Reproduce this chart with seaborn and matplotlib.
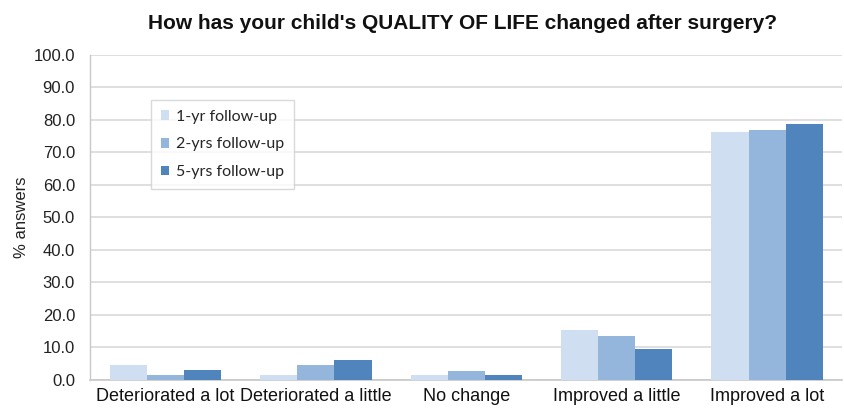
import matplotlib
matplotlib.use("Agg")
import matplotlib.pyplot as plt
import seaborn as sns
import pandas as pd

categories = ["Deteriorated a lot", "Deteriorated a little", "No change",
              "Improved a little", "Improved a lot"]
series = ["1-yr follow-up", "2-yrs follow-up", "5-yrs follow-up"]
one_year = [4.6, 1.5, 1.5, 15.4, 76.4]
two_years = [1.5, 4.6, 2.9, 13.6, 76.9]
five_years = [3.1, 6.2, 1.5, 9.6, 78.7]
yticks = [0, 10, 20, 30, 40, 50, 60, 70, 80, 90, 100]

colors = ["#cfdef0", "#95b6dc", "#4f85bc"]

df = pd.DataFrame({
    "category": categories * 3,
    "series": [series[0]] * 5 + [series[1]] * 5 + [series[2]] * 5,
    "value": one_year + two_years + five_years,
})

sns.set_style("white")
plt.rcParams["font.family"] = ["Liberation Sans", "DejaVu Sans"]

fig = plt.figure(figsize=(8.44, 4.13), dpi=100)
ax = fig.add_axes([0.107, 0.080, 0.891, 0.787])

sns.barplot(data=df, x="category", y="value", hue="series", order=categories,
            hue_order=series, palette=colors, width=0.74, saturation=1,
            edgecolor="none", linewidth=0, ax=ax, zorder=3)

ax.set_ylim(0, 100)
ax.set_yticks(yticks)
ax.set_yticklabels([f"{v:.1f}" for v in yticks], fontsize=12, color="#222222")
ax.set_xlim(-0.5, len(categories) - 0.5)
ax.tick_params(axis="x", length=0, labelsize=13, colors="#111111", pad=6)
ax.tick_params(axis="y", length=5, width=1, color="#c8c8c8", direction="out", pad=6)
ax.grid(axis="y", color="#d9d9d9", linewidth=1.2, zorder=0)
ax.set_axisbelow(True)
ax.set_xlabel("")
ax.set_ylabel("% answers", fontsize=12, color="#222222", labelpad=3)

for side in ["top", "right"]:
    ax.spines[side].set_visible(False)
ax.spines["left"].set_color("#c8c8c8")
ax.spines["bottom"].set_color("#c8c8c8")
ax.spines["left"].set_linewidth(1)
ax.spines["bottom"].set_linewidth(1.2)

fig.suptitle("How has your child's QUALITY OF LIFE changed after surgery?",
             x=0.548, y=0.965, fontsize=15, fontweight="bold", color="#111111")

leg = ax.legend(loc="upper left", bbox_to_anchor=(0.07, 0.885), frameon=True,
                fancybox=False, edgecolor="#d0d0d0", handlelength=0.55,
                handleheight=0.55, handletextpad=0.45, labelspacing=0.85,
                borderpad=0.6, prop={"family": "Lato", "size": 11.5})
leg.get_frame().set_linewidth(1)

fig.savefig("out.png", dpi=100, facecolor="white")
